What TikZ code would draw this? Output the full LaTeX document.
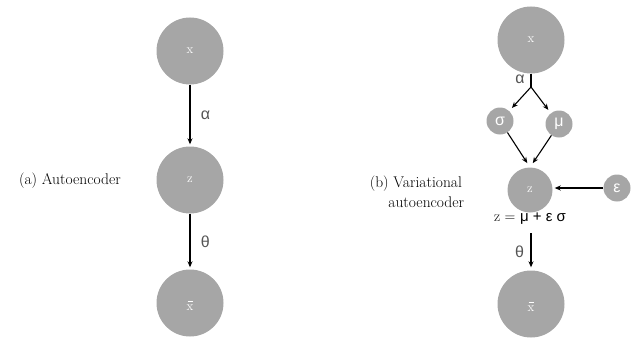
\documentclass[tikz,border=0pt]{standalone}
\usepackage{fontspec}
\setmainfont{Latin Modern Roman}
\newfontfamily\gk{Liberation Sans}
\usetikzlibrary{arrows.meta}
\definecolor{nodegray}{HTML}{A6A6A6}
\definecolor{labgray}{HTML}{555555}
\tikzset{
  bignode/.style={circle,fill=nodegray,minimum size=67pt,inner sep=0pt,text=white,font=\fontsize{13}{15}\selectfont},
  midnode/.style={circle,fill=nodegray,minimum size=45pt,inner sep=0pt,text=white,font=\fontsize{13}{15}\selectfont},
  smallnode/.style={circle,fill=nodegray,minimum size=27pt,inner sep=0pt,text=white,font=\gk\fontsize{16}{18}\selectfont},
  arr/.style={-{Stealth[length=6pt,width=5pt]},line width=1.1pt,black,shorten >=2pt},
  glab/.style={text=labgray,font=\gk\fontsize{16}{18}\selectfont},
  captext/.style={font=\fontsize{15.5}{20}\selectfont,text=black}
}
\newcommand{\xbarlabel}{\begin{tabular}{@{}c@{}}\rule[0pt]{5pt}{0.9pt}\\[-7pt]x\end{tabular}}
\begin{document}
\begin{tikzpicture}[x=1pt,y=-1pt]
\useasboundingbox (0,0) rectangle (644,345);
% (a)
\node[bignode] (ax) at (190,51) {x};
\node[bignode] (az) at (190,180) {z};
\node[bignode] (axb) at (190,303) {\xbarlabel};
\draw[arr] (ax) -- (az) node[midway,right=7pt,glab] {α};
\draw[arr] (az) -- (axb) node[midway,right=7pt,glab] {θ};
\node[captext] (capa) at (70,181) {(a) Autoencoder};
% (b)
\node[bignode] (bx) at (531,40) {x};
\coordinate (br) at (531,87);
\node[smallnode] (bs) at (500,121) {σ};
\node[smallnode] (bm) at (559,124) {μ};
\node[midnode] (bz) at (530,190) {z};
\node[smallnode] (be) at (617,188) {ε};
\node[bignode] (bxb) at (531,304) {\xbarlabel};
\draw[line width=1.1pt] (bx) -- (br);
\node[glab] (alab) at (520,79) {α};
\draw[arr,shorten >=4pt] (br) -- (bs);
\draw[arr,shorten >=4pt] (br) -- (bm);
\draw[arr,shorten >=5pt] (bs) -- (bz.north);
\draw[arr,shorten >=5pt] (bm) -- (bz.north);
\draw[arr,shorten >=2pt] (be) -- (bz.east |- be);
\node[font=\fontsize{15}{17}\selectfont] (eq) at (530,219) {z = {\gk μ + ε σ}};
\coordinate (ts) at (531,233);
\draw[arr,shorten >=3pt] (ts) -- (bxb) node[midway,left=3pt,glab] {θ};
\node[captext,align=left] (capb) at (417,192) {(b) Variational\\\hspace{1.2em}autoencoder};
\end{tikzpicture}
\end{document}
